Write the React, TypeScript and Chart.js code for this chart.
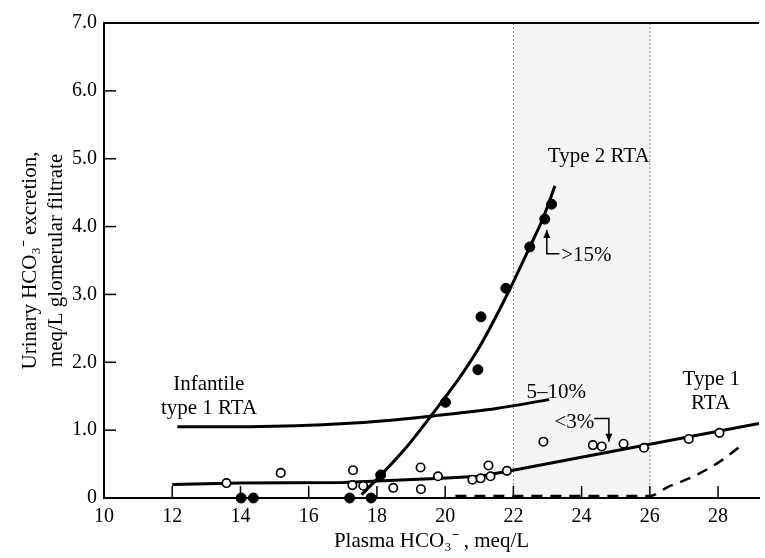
import { useEffect, useRef } from "react";
import { Chart, registerables } from "chart.js";

Chart.register(...registerables);

// ---- axis ticks ----
const xTickValues = [10, 12, 14, 16, 18, 20, 22, 24, 26, 28];
const xTickLabels = ["10", "12", "14", "16", "18", "20", "22", "24", "26", "28"];
const yTickValues = [0, 1, 2, 3, 4, 5, 6, 7];
const yTickLabels = ["0", "1.0", "2.0", "3.0", "4.0", "5.0", "6.0", "7.0"];

// ---- shaded band (plasma HCO3 range) ----
const bandX = [22, 26];

// ---- Type 2 RTA patients (filled dots) ----
const type2DotsX = [14.02, 14.38, 17.2, 17.83, 18.11, 20.01, 20.96, 21.05, 21.78, 22.48, 22.92, 23.12];
const type2DotsY = [0.0, 0.0, 0.0, 0.0, 0.34, 1.41, 1.89, 2.67, 3.09, 3.7, 4.11, 4.33];

// ---- Type 1 RTA patients (open circles) ----
const type1DotsX = [13.59, 15.18, 17.3, 17.28, 17.6, 18.48, 19.28, 19.29, 19.79, 20.8, 21.04, 21.33, 21.27, 21.81, 22.88, 24.33, 24.59, 25.23, 25.83, 27.14, 28.04];
const type1DotsY = [0.22, 0.37, 0.41, 0.19, 0.18, 0.15, 0.45, 0.13, 0.32, 0.27, 0.29, 0.32, 0.48, 0.4, 0.83, 0.78, 0.76, 0.8, 0.74, 0.87, 0.96];

// ---- curves ----
const type2CurveX = [17.55, 18.1, 18.8, 19.6, 20.5, 21.0, 21.8, 22.5, 22.85, 23.22];
const type2CurveY = [0.05, 0.33, 0.71, 1.22, 1.83, 2.22, 2.98, 3.72, 4.1, 4.6];

const infantileCurveX = [12.15, 14, 16.8, 18.5, 19.65, 21.5, 23.05];
const infantileCurveY = [1.05, 1.05, 1.09, 1.15, 1.21, 1.32, 1.45];

const type1LineX = [12, 14, 17, 19.9, 21.0, 21.8, 29.2];
const type1LineY = [0.2, 0.22, 0.23, 0.29, 0.32, 0.39, 1.1];

const normalCurveX = [20.3, 22, 24, 26.0, 26.52, 27.29, 28.06, 28.75];
const normalCurveY = [0.03, 0.03, 0.03, 0.03, 0.16, 0.32, 0.54, 0.8];

// ---- annotations (data coordinates) ----
const labelTexts = ["Type 2 RTA", "Infantile", "type 1 RTA", "5\u201310%", "<3%", ">15%", "Type 1", "RTA"];
const labelX = [23.01, 13.07, 13.08, 23.26, 23.79, 23.4, 27.8, 27.78];
const labelY = [5.04, 1.68, 1.32, 1.56, 1.12, 3.58, 1.75, 1.4];
const labelAlign = ["left", "center", "center", "center", "center", "left", "center", "center"];

const arrow15X = [23.35, 22.98, 22.98];
const arrow15Y = [3.6, 3.6, 3.95];
const arrow3X = [24.37, 24.8, 24.8];
const arrow3Y = [1.17, 1.17, 0.83];

const FONT = "'Liberation Serif', 'Times New Roman', serif";

const zip = (xs: number[], ys: number[]) => xs.map((x, i) => ({ x, y: ys[i] }));

const overlayPlugin = {
  id: "overlay",
  beforeDatasetsDraw(chart: any) {
    const { ctx, chartArea, scales } = chart;
    const x = scales.x;
    const x1 = x.getPixelForValue(bandX[0]);
    const x2 = x.getPixelForValue(bandX[1]);
    ctx.save();
    ctx.fillStyle = "rgba(0,0,0,0.045)";
    ctx.fillRect(x1, chartArea.top, x2 - x1, chartArea.bottom - chartArea.top);
    ctx.strokeStyle = "#8a8a8a";
    ctx.lineWidth = 1;
    ctx.setLineDash([2, 2]);
    [x1, x2].forEach((px) => {
      ctx.beginPath();
      ctx.moveTo(px, chartArea.top);
      ctx.lineTo(px, chartArea.bottom);
      ctx.stroke();
    });
    ctx.restore();
  },
  afterDraw(chart: any) {
    const { ctx, chartArea, scales } = chart;
    const x = scales.x;
    const y = scales.y;
    ctx.save();
    ctx.strokeStyle = "#000";
    ctx.fillStyle = "#000";
    // top frame line
    ctx.lineWidth = 2;
    ctx.beginPath();
    ctx.moveTo(chartArea.left, chartArea.top);
    ctx.lineTo(chartArea.right, chartArea.top);
    ctx.stroke();
    // inward tick marks
    ctx.lineWidth = 1.5;
    xTickValues.forEach((v) => {
      if (v === xTickValues[0]) return;
      const px = x.getPixelForValue(v);
      ctx.beginPath();
      ctx.moveTo(px, chartArea.bottom);
      ctx.lineTo(px, chartArea.bottom - 12);
      ctx.stroke();
    });
    yTickValues.forEach((v) => {
      if (v === yTickValues[0] || v === yTickValues[yTickValues.length - 1]) return;
      const py = y.getPixelForValue(v);
      ctx.beginPath();
      ctx.moveTo(chartArea.left, py);
      ctx.lineTo(chartArea.left + 12, py);
      ctx.stroke();
    });
    // bracket arrows
    const drawArrow = (xs: number[], ys: number[]) => {
      const pts = xs.map((v, i) => [x.getPixelForValue(v), y.getPixelForValue(ys[i])]);
      ctx.lineWidth = 1.5;
      ctx.beginPath();
      ctx.moveTo(pts[0][0], pts[0][1]);
      for (let i = 1; i < pts.length; i++) ctx.lineTo(pts[i][0], pts[i][1]);
      ctx.stroke();
      const [ex, ey] = pts[pts.length - 1];
      const [sx, sy] = pts[pts.length - 2];
      const ang = Math.atan2(ey - sy, ex - sx);
      const L = 8;
      const W = 3.5;
      ctx.beginPath();
      ctx.moveTo(ex, ey);
      ctx.lineTo(ex - L * Math.cos(ang) + W * Math.sin(ang), ey - L * Math.sin(ang) - W * Math.cos(ang));
      ctx.lineTo(ex - L * Math.cos(ang) - W * Math.sin(ang), ey - L * Math.sin(ang) + W * Math.cos(ang));
      ctx.closePath();
      ctx.fill();
    };
    drawArrow(arrow15X, arrow15Y);
    drawArrow(arrow3X, arrow3Y);
    // text labels
    ctx.font = `21px ${FONT}`;
    ctx.textBaseline = "middle";
    labelTexts.forEach((t, i) => {
      ctx.textAlign = labelAlign[i] as CanvasTextAlign;
      ctx.fillText(t, x.getPixelForValue(labelX[i]), y.getPixelForValue(labelY[i]));
    });
    ctx.restore();
  },
};

export default function App() {
  const canvasRef = useRef<HTMLCanvasElement | null>(null);

  useEffect(() => {
    if (!canvasRef.current) return;
    Chart.defaults.font.family = FONT;
    Chart.defaults.color = "#000";

    const lineDs = (data: any[], extra: any = {}) => ({
      type: "line",
      data,
      showLine: true,
      borderColor: "#000",
      borderWidth: 3,
      pointRadius: 0,
      fill: false,
      cubicInterpolationMode: "monotone",
      order: 2,
      ...extra,
    });

    const chart = new Chart(canvasRef.current, {
      type: "scatter",
      data: {
        datasets: [
          {
            label: "Type 2 RTA",
            data: zip(type2DotsX, type2DotsY),
            pointRadius: 5,
            pointBackgroundColor: "#000",
            pointBorderColor: "#000",
            pointBorderWidth: 1,
            clip: false,
            order: 0,
          },
          {
            label: "Type 1 RTA",
            data: zip(type1DotsX, type1DotsY),
            pointRadius: 4.2,
            pointBackgroundColor: "#fff",
            pointBorderColor: "#000",
            pointBorderWidth: 1.7,
            clip: false,
            order: 0,
          },
          lineDs(zip(type2CurveX, type2CurveY), { label: "Type 2 curve" }),
          lineDs(zip(infantileCurveX, infantileCurveY), { label: "Infantile curve" }),
          lineDs(zip(type1LineX, type1LineY), { label: "Type 1 line", cubicInterpolationMode: "default", tension: 0 }),
          lineDs(zip(normalCurveX, normalCurveY), { label: "Normal", borderWidth: 2.5, borderDash: [11, 8] }),
        ] as any,
      },
      options: {
        animation: false,
        responsive: false,
        layout: { padding: { left: 0, right: 0, top: 23, bottom: 0 } },
        plugins: {
          legend: { display: false },
          tooltip: { enabled: false },
        },
        scales: {
          x: {
            type: "linear",
            min: 10,
            max: 29.2,
            grid: { display: false, drawTicks: false },
            border: { display: true, color: "#000", width: 2 },
            afterBuildTicks: (scale: any) => {
              scale.ticks = xTickValues.map((v) => ({ value: v }));
            },
            afterFit: (scale: any) => {
              scale.height = 60;
            },
            ticks: {
              padding: 7,
              color: "#000",
              font: { size: 20, family: FONT },
              maxRotation: 0,
              callback: (v: any) => {
                const i = xTickValues.indexOf(Number(v));
                return i >= 0 ? xTickLabels[i] : "";
              },
            },
            title: {
              display: true,
              text: "Plasma HCO\u2083\u207B , meq/L",
              color: "#000",
              font: { size: 21, family: FONT },
              padding: { top: 0, bottom: 4 },
            },
          },
          y: {
            type: "linear",
            min: 0,
            max: 7,
            grid: { display: false, drawTicks: false },
            border: { display: true, color: "#000", width: 2 },
            afterBuildTicks: (scale: any) => {
              scale.ticks = yTickValues.map((v) => ({ value: v }));
            },
            afterFit: (scale: any) => {
              scale.width = 104;
            },
            ticks: {
              padding: 7,
              color: "#000",
              font: { size: 20, family: FONT },
              callback: (v: any) => {
                const i = yTickValues.indexOf(Number(v));
                return i >= 0 ? yTickLabels[i] : "";
              },
            },
            title: {
              display: true,
              text: ["Urinary HCO\u2083\u207B excretion,", "meq/L glomerular filtrate"],
              color: "#000",
              font: { size: 21, family: FONT, lineHeight: 1.25 },
              padding: { top: 17, bottom: 0 },
            },
          },
        },
      } as any,
      plugins: [overlayPlugin],
    });

    return () => chart.destroy();
  }, []);

  return (
    <div style={{ position: "fixed", left: 0, top: 0, width: 765, height: 558, background: "#fff" }}>
      <canvas ref={canvasRef} width={765} height={558} style={{ display: "block" }} />
    </div>
  );
}
